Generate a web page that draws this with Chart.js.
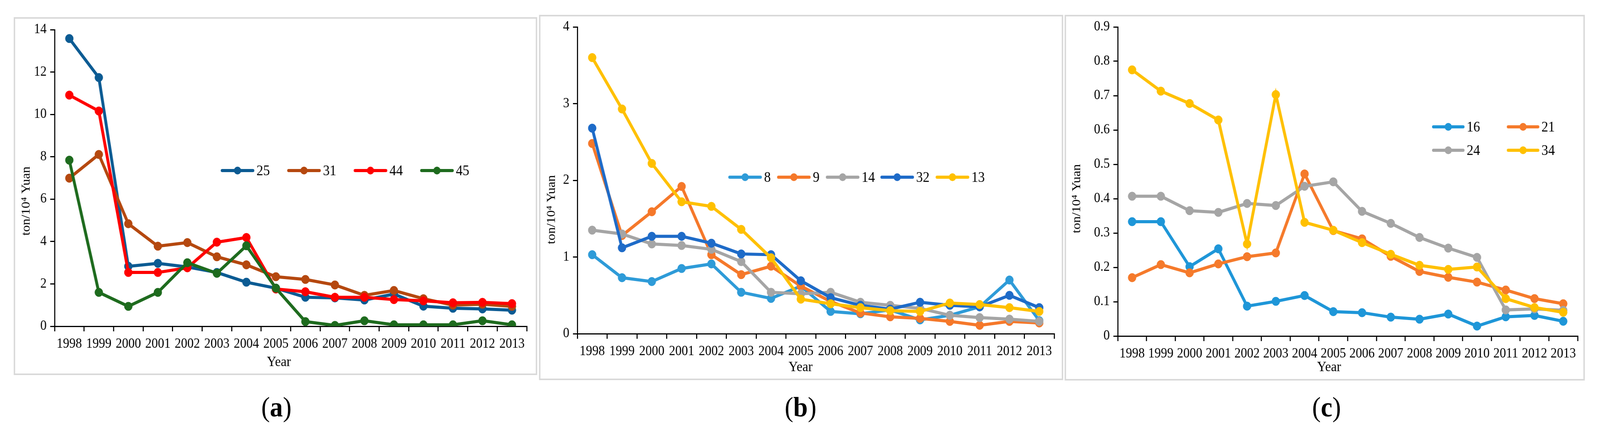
<!DOCTYPE html>
<html>
<head>
<meta charset="utf-8">
<script src="https://cdn.jsdelivr.net/npm/chart.js@4.4.1/dist/chart.umd.min.js"></script>
<style>
  html, body { margin: 0; padding: 0; background: #fff; overflow: hidden; }
  #page { position: absolute; left: 0; top: 0; width: 4429px; height: 1112px; transform-origin: 0 0; background: #fff; }
  .frame { position: absolute; box-sizing: border-box; border: 4px solid #d9d9d9; }
  canvas { position: absolute; }
  .cap { position: absolute; font-family: 'Liberation Serif', serif; font-size: 72px; line-height: 1; transform: translate(-50%, -50%); }
</style>
</head>
<body>
<div id="page">
  <div class="frame" style="left:38px;top:44px;width:1449px;height:917px"></div>
  <div class="frame" style="left:1492px;top:38px;width:1451px;height:936px"></div>
  <div class="frame" style="left:2947px;top:38px;width:1440px;height:937px"></div>

  <canvas id="chartA" width="1449" height="917" style="left:38px;top:44px;width:1449px;height:917px"></canvas>
  <canvas id="chartB" width="1451" height="936" style="left:1492px;top:38px;width:1451px;height:936px"></canvas>
  <canvas id="chartC" width="1440" height="937" style="left:2947px;top:38px;width:1440px;height:937px"></canvas>

  <div class="cap" style="left:765px;top:1043px">(<b>a</b>)</div>
  <div class="cap" style="left:2216px;top:1043px">(<b>b</b>)</div>
  <div class="cap" style="left:3672px;top:1043px">(<b>c</b>)</div>
</div>

<script>
// years on the x axis
var years = ['1998', '1999', '2000', '2001', '2002', '2003', '2004', '2005',
             '2006', '2007', '2008', '2009', '2010', '2011', '2012', '2013'];

// panel (a)
var labelsA = ['25', '31', '44', '45'];
var a25 = [13.58, 11.74, 2.83, 2.97, 2.80, 2.54, 2.08, 1.80, 1.37, 1.34, 1.24, 1.52, 0.95, 0.85, 0.82, 0.76];
var a31 = [6.99, 8.11, 4.84, 3.78, 3.95, 3.28, 2.90, 2.34, 2.21, 1.95, 1.46, 1.69, 1.30, 1.00, 1.04, 0.94];
var a44 = [10.91, 10.16, 2.54, 2.54, 2.76, 3.97, 4.19, 1.76, 1.63, 1.37, 1.37, 1.26, 1.20, 1.11, 1.13, 1.07];
var a45 = [7.84, 1.60, 0.94, 1.60, 3.00, 2.50, 3.80, 1.80, 0.22, 0.04, 0.26, 0.07, 0.07, 0.07, 0.26, 0.07];
var ticksA = { min: 0, max: 14, step: 2 };

// panel (b)
var labelsB = ['8', '9', '14', '32', '13'];
var b8  = [1.03, 0.73, 0.68, 0.85, 0.91, 0.54, 0.46, 0.62, 0.29, 0.26, 0.31, 0.18, 0.24, 0.35, 0.70, 0.17];
var b9  = [2.48, 1.28, 1.59, 1.92, 1.03, 0.77, 0.88, 0.62, 0.42, 0.27, 0.22, 0.20, 0.16, 0.11, 0.16, 0.14];
var b14 = [1.35, 1.30, 1.17, 1.15, 1.10, 0.94, 0.54, 0.52, 0.54, 0.41, 0.37, 0.33, 0.24, 0.21, 0.19, 0.16];
var b32 = [2.68, 1.12, 1.27, 1.27, 1.18, 1.04, 1.03, 0.69, 0.47, 0.37, 0.32, 0.41, 0.37, 0.35, 0.50, 0.34];
var b13 = [3.60, 2.93, 2.22, 1.72, 1.66, 1.36, 0.99, 0.45, 0.39, 0.34, 0.30, 0.29, 0.40, 0.38, 0.34, 0.29];
var ticksB = { min: 0, max: 4, step: 1 };

// panel (c)
var labelsC = ['16', '21', '24', '34'];
var c16 = [0.333, 0.333, 0.202, 0.254, 0.087, 0.101, 0.118, 0.071, 0.068, 0.055, 0.049, 0.064, 0.029, 0.056, 0.060, 0.043];
var c21 = [0.170, 0.208, 0.184, 0.210, 0.231, 0.242, 0.472, 0.307, 0.283, 0.232, 0.188, 0.171, 0.157, 0.134, 0.109, 0.094];
var c24 = [0.407, 0.407, 0.365, 0.360, 0.386, 0.380, 0.436, 0.449, 0.363, 0.328, 0.287, 0.256, 0.229, 0.076, 0.079, 0.075];
var c34 = [0.775, 0.713, 0.677, 0.629, 0.268, 0.703, 0.331, 0.308, 0.272, 0.238, 0.206, 0.194, 0.201, 0.109, 0.083, 0.069];
var ticksC = { min: 0, max: 0.9, step: 0.1 };

// stretch the 4429x1112 figure onto whatever viewport we get
var sx = window.innerWidth / 4429, sy = window.innerHeight / 1112;
document.getElementById('page').style.transform = 'scale(' + sx + ',' + sy + ')';

Chart.defaults.font.family = "'Liberation Serif', serif";
Chart.defaults.color = '#000';

function makeSets(labels, series, colors) {
    var n = labels.length;
    return labels.map(function (lab, i) {
        return {
            label: lab,
            data: series[i],
            borderColor: colors[i],
            backgroundColor: colors[i],
            pointBackgroundColor: colors[i],
            pointBorderColor: colors[i],
            borderWidth: 8,
            pointRadius: 11,
            pointBorderWidth: 1,
            tension: 0,
            order: n - i   // later series on top, like the original
        };
    });
}

// legend samples and axis titles drawn by hand
function decor(cfg) {
    return {
        id: 'decor',
        afterDatasetsDraw: function (chart) {
            var ctx = chart.ctx;
            ctx.save();
            chart.data.datasets.forEach(function (ds, i) {
                var p = cfg.legend[i];
                ctx.strokeStyle = ds.borderColor;
                ctx.fillStyle = ds.borderColor;
                ctx.lineWidth = 8;
                ctx.lineCap = 'round';
                ctx.beginPath();
                ctx.moveTo(p[0], p[1]);
                ctx.lineTo(p[0] + cfg.sample, p[1]);
                ctx.stroke();
                ctx.beginPath();
                ctx.arc(p[0] + cfg.sample / 2, p[1], 10, 0, Math.PI * 2);
                ctx.fill();
                ctx.fillStyle = '#000';
                ctx.font = "37px 'Liberation Serif'";
                ctx.textAlign = 'left';
                ctx.textBaseline = 'middle';
                ctx.fillText(ds.label, p[0] + cfg.sample + 10, p[1] + 2);
            });
            ctx.font = "36px 'Liberation Serif'";
            ctx.textAlign = 'center';
            ctx.textBaseline = 'middle';
            ctx.fillStyle = '#000';
            ctx.fillText('Year', cfg.xTitle[0], cfg.xTitle[1]);
            ctx.translate(cfg.yTitle[0], cfg.yTitle[1]);
            ctx.rotate(-Math.PI / 2);
            ctx.font = "34px 'Liberation Serif'";
            ctx.fillText('ton/10\u2074 Yuan', 0, 0);
            ctx.restore();
        }
    };
}

function makeChart(id, labels, series, colors, tk, lay, cfg) {
    return new Chart(document.getElementById(id), {
        type: 'line',
        data: { labels: years, datasets: makeSets(labels, series, colors) },
        options: {
            responsive: false,
            animation: false,
            devicePixelRatio: 1,
            layout: { padding: { left: 0, top: lay.top, right: lay.right, bottom: lay.bottom } },
            plugins: { legend: { display: false }, tooltip: { enabled: false } },
            scales: {
                x: {
                    offset: true,
                    grid: { offset: true, drawOnChartArea: false, drawTicks: true, tickLength: 13, color: '#000', lineWidth: 3 },
                    border: { display: true, color: '#000', width: 3 },
                    ticks: { font: { size: 35 }, padding: 12, maxRotation: 0, autoSkip: false },
                    afterFit: function (s) { s.height = 100; }
                },
                y: {
                    min: tk.min,
                    max: tk.max,
                    grid: { drawOnChartArea: false, drawTicks: true, tickLength: 12, color: '#000', lineWidth: 3 },
                    border: { display: true, color: '#000', width: 3 },
                    ticks: { stepSize: tk.step, font: { size: 35 }, padding: 10 },
                    afterFit: function (s) { s.width = lay.yw; }
                }
            }
        },
        plugins: [decor(cfg)]
    });
}

var chartA = makeChart('chartA', labelsA, [a25, a31, a44, a45],
    ['#0c5b93', '#b5480f', '#ff0000', '#1e6b1e'], ticksA,
    { top: 32, right: 29, bottom: 25, yw: 113 },
    { legend: [[577, 393], [761, 393], [945, 393], [1129, 393]], sample: 85, xTitle: [734, 885], yTitle: [35, 471] });

var chartB = makeChart('chartB', labelsB, [b8, b9, b14, b32, b13],
    ['#2e9bd8', '#f5782a', '#a5a5a5', '#1e6bc8', '#ffc000'], ticksB,
    { top: 29, right: 25, bottom: 19, yw: 106 },
    { legend: [[528, 416], [663, 416], [798, 416], [949, 416], [1102, 416]], sample: 85, xTitle: [724, 904], yTitle: [35, 499] });

var chartC = makeChart('chartC', labelsC, [c16, c21, c24, c34],
    ['#1e96d8', '#f57a2b', '#a5a5a5', '#ffc000'], ticksC,
    { top: 29, right: 20, bottom: 14, yw: 147 },
    { legend: [[1021, 287], [1228, 287], [1021, 347], [1228, 347]], sample: 82, xTitle: [732, 904], yTitle: [34, 471] });
</script>
</body>
</html>
